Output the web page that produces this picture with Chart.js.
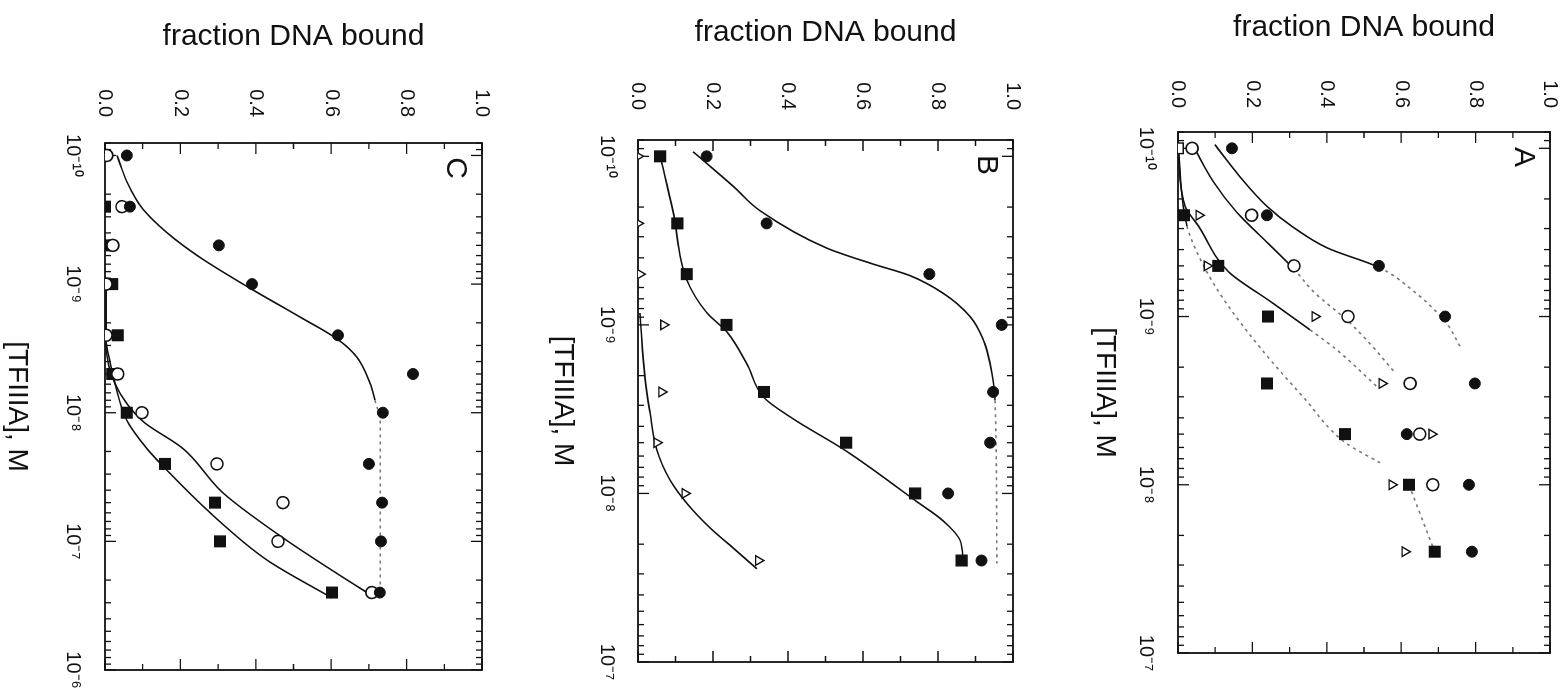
<!DOCTYPE html>
<html>
<head>
<meta charset="utf-8">
<script src="https://cdn.jsdelivr.net/npm/chart.js@4.4.1/dist/chart.umd.min.js"></script>
<style>
  html, body { margin: 0; padding: 0; background: #fff; overflow: hidden; }
  body { width: 1566px; height: 694px; position: relative; }
  /* the figure is laid out upright (694 wide, 1566 tall) and turned a quarter clockwise */
  #page { position: absolute; left: 0; top: 0; width: 694px; height: 1566px; overflow: hidden;
          transform-origin: 0 0; transform: translateX(1566px) rotate(90deg); }
  .panel { position: absolute; left: 0; }
</style>
</head>
<body>
<div id="page">
  <div class="panel" style="top:-20px"><canvas id="chartA" width="694" height="510"></canvas></div>
  <div class="panel" style="top:490px"><canvas id="chartB" width="714" height="540"></canvas></div>
  <div class="panel" style="top:1030px"><canvas id="chartC" width="714" height="536"></canvas></div>
</div>
<script>
// concentration axis labels
const decades = [1e-10, 1e-9, 1e-8, 1e-7, 1e-6];

// ---- panel A ----
const concA = [1e-10, 2.5e-10, 5e-10, 1e-9, 2.5e-9, 5e-9, 1e-8, 2.5e-8];
const aFilledCircle = [0.145, 0.239, 0.54, 0.718, 0.798, 0.615, 0.782, 0.79];
const aOpenCircle = [0.038, 0.198, 0.312, 0.457, 0.624, 0.65, 0.685, null];
const aTriangle = [null, 0.056, 0.078, 0.368, 0.548, 0.682, 0.575, 0.61];
const aSquare = [0, 0.016, 0.108, 0.242, 0.239, 0.449, 0.621, 0.69];
// fitted curves
const aFitFilledConc = [9.5e-11, 1.4e-10, 2.2e-10, 2.95e-10, 3.9e-10, 5.1e-10, 6.8e-10, 1.07e-9, 1.5e-9];
const aFitFilled = [0.099, 0.158, 0.238, 0.31, 0.40, 0.54, 0.624, 0.718, 0.758];
const aFitOpenConc = [1.02e-10, 1.58e-10, 2.4e-10, 3.6e-10, 5.2e-10, 7.1e-10, 1.07e-9, 1.45e-9, 2.1e-9];
const aFitOpen = [0.046, 0.095, 0.158, 0.238, 0.311, 0.364, 0.458, 0.516, 0.579];
const aFitTriangleConc = [1e-10, 2.2e-10, 2.9e-10, 5.4e-10, 8.1e-10, 1.2e-9, 1.58e-9, 2.6e-9];
const aFitTriangle = [0, 0.019, 0.055, 0.135, 0.247, 0.355, 0.427, 0.534];
const aFitSquareConc = [1e-10, 2.9e-10, 4.9e-10, 8.1e-10, 1.6e-9, 3.0e-9, 5.6e-9, 7.4e-9];
const aFitSquare = [0, 0.024, 0.067, 0.126, 0.228, 0.336, 0.449, 0.543];
const aLinkConc = [1e-8, 2.5e-8];
const aLink = [0.621, 0.69];

// ---- panel B ----
const concB = [1e-10, 2.5e-10, 5e-10, 1e-9, 2.5e-9, 5e-9, 1e-8, 2.5e-8];
const bFilledCircle = [0.183, 0.343, 0.777, 0.97, 0.947, 0.939, 0.827, 0.916];
const bSquare = [0.059, 0.105, 0.13, 0.236, 0.336, 0.555, 0.739, 0.863];
const bTriangle = [0, 0, 0.005, 0.068, 0.063, 0.05, 0.125, 0.321];
const bFitFilledConc = [9.4e-11, 1.5e-10, 2.1e-10, 3.5e-10, 4.3e-10, 5.1e-10, 6.5e-10, 8.9e-10, 1.23e-9, 1.7e-9, 2.8e-9, 2.6e-8];
const bFitFilled = [0.147, 0.253, 0.325, 0.503, 0.619, 0.725, 0.814, 0.885, 0.921, 0.939, 0.952, 0.957];
const bFitSquareConc = [1e-10, 2.1e-10, 5.4e-10, 8.5e-10, 1.1e-9, 1.7e-9, 2.7e-9, 3.6e-9, 5.6e-9, 1.1e-8, 1.45e-8, 1.9e-8, 2.6e-8];
const bFitSquare = [0.059, 0.093, 0.13, 0.184, 0.237, 0.29, 0.336, 0.413, 0.555, 0.739, 0.813, 0.859, 0.867];
const bFitTriangleConc = [8.5e-10, 2.1e-9, 3.3e-9, 5.5e-9, 8.3e-9, 1.15e-8, 1.6e-8, 2.1e-8, 2.8e-8];
const bFitTriangle = [0.005, 0.019, 0.032, 0.05, 0.085, 0.131, 0.192, 0.253, 0.317];

// ---- panel C ----
const concC = [1e-10, 2.5e-10, 5e-10, 1e-9, 2.5e-9, 5e-9, 1e-8, 2.5e-8, 5e-8, 1e-7, 2.5e-7];
const cFilledCircle = [0.058, 0.066, 0.302, 0.39, 0.618, 0.817, 0.737, 0.70, 0.735, 0.732, 0.729];
const cOpenCircle = [0.005, 0.045, 0.021, 0.003, 0.003, 0.034, 0.098, 0.297, 0.472, 0.459, 0.708];
const cSquare = [null, 0, 0, 0.019, 0.034, 0.019, 0.058, 0.159, 0.292, 0.305, 0.602];
const cFitFilledConc = [1e-10, 1.6e-10, 2.6e-10, 4e-10, 6.2e-10, 1.1e-9, 1.8e-9, 2.7e-9, 3.7e-9, 5.9e-9, 8e-9, 1.15e-8, 2.7e-7];
const cFitFilled = [0.032, 0.058, 0.10, 0.165, 0.252, 0.39, 0.517, 0.618, 0.668, 0.703, 0.716, 0.73, 0.73];
const cFitOpenConc = [1.1e-9, 2.9e-9, 6e-9, 1.15e-8, 1.9e-8, 4.2e-8, 9.3e-8, 1.7e-7, 2.5e-7];
const cFitOpen = [0.003, 0.003, 0.027, 0.098, 0.207, 0.313, 0.47, 0.605, 0.695];
const cFitSquareConc = [2.9e-9, 6e-9, 1.15e-8, 1.9e-8, 2.7e-8, 6e-8, 1.4e-7, 2.75e-7];
const cFitSquare = [0.003, 0.027, 0.058, 0.111, 0.159, 0.279, 0.43, 0.602];

const fontFam = '"Liberation Sans", Arial, Helvetica, sans-serif';
const ink = '#111';

function pairs(xs, ys) {
  return xs.map((x, i) => ({ x: x, y: ys[i] })).filter(p => p.y !== null);
}

const marks = {
  filled: { pointStyle: 'circle', pointRadius: 5.5, pointBackgroundColor: ink, pointBorderColor: ink, pointBorderWidth: 1 },
  open: { pointStyle: 'circle', pointRadius: 6, pointBackgroundColor: '#fff', pointBorderColor: ink, pointBorderWidth: 1.6 },
  square: { pointStyle: 'rect', pointRadius: 7.5, pointBackgroundColor: ink, pointBorderColor: ink, pointBorderWidth: 1.4 },
  triangle: { pointStyle: 'triangle', pointRadius: 5.5, pointBackgroundColor: '#fff', pointBorderColor: ink, pointBorderWidth: 1.4 }
};

function markSet(xs, ys, kind, extra) {
  return Object.assign({ data: pairs(xs, ys), showLine: false, order: 1 }, marks[kind], extra || {});
}

function fitSet(xs, ys, dashFrom) {
  const from = dashFrom === undefined ? Infinity : dashFrom;
  return {
    data: pairs(xs, ys), showLine: true, pointRadius: 0, borderColor: ink, borderWidth: 1.6,
    cubicInterpolationMode: 'monotone', order: 2,
    segment: {
      borderDash: c => c.p0DataIndex >= from ? [3, 4] : undefined,
      borderColor: c => c.p0DataIndex >= from ? '#777' : undefined
    }
  };
}

function sup(v) {
  const map = { '-': '\u207B', '0': '\u2070', '1': '\u00B9', '2': '\u00B2', '3': '\u00B3', '4': '\u2074',
    '5': '\u2075', '6': '\u2076', '7': '\u2077', '8': '\u2078', '9': '\u2079' };
  return String(Math.round(Math.log10(v))).split('').map(ch => map[ch]).join('');
}

// box, inward ticks and panel letter
const framePlugin = {
  id: 'frame',
  beforeDatasetsDraw(chart) {
    const { ctx, chartArea: a, scales: { x, y } } = chart;
    ctx.save();
    ctx.strokeStyle = ink;
    ctx.lineWidth = 1.8;
    ctx.strokeRect(a.left, a.top, a.right - a.left, a.bottom - a.top);
    ctx.lineWidth = 1.3;
    ctx.beginPath();
    for (let e = -11; e <= -6; e++) {
      for (let m = 1; m <= 9; m++) {
        const v = m * Math.pow(10, e);
        if (v < x.min * 0.999 || v > x.max * 1.001) continue;
        const px = x.getPixelForValue(v);
        const len = m === 1 ? 11 : 6;
        ctx.moveTo(px, a.bottom); ctx.lineTo(px, a.bottom - len);
        ctx.moveTo(px, a.top); ctx.lineTo(px, a.top + len);
      }
    }
    for (let i = 0; i <= 10; i++) {
      const py = y.getPixelForValue(i / 10);
      const len = i % 2 === 0 ? 11 : 6;
      ctx.moveTo(a.left, py); ctx.lineTo(a.left + len, py);
      ctx.moveTo(a.right, py); ctx.lineTo(a.right - len, py);
    }
    ctx.stroke();
    ctx.restore();
  },
  afterDraw(chart, args, opts) {
    const { ctx, chartArea: a } = chart;
    ctx.save();
    ctx.fillStyle = ink;
    ctx.font = '30px ' + fontFam;
    ctx.textAlign = 'center';
    ctx.textBaseline = 'middle';
    ctx.fillText(opts.letter, a.left + 25, a.top + 27);
    ctx.restore();
  }
};

function makeChart(p, datasets) {
  return new Chart(document.getElementById(p.id), {
    type: 'scatter',
    data: { datasets: datasets },
    plugins: [framePlugin],
    options: {
      responsive: false,
      animation: false,
      layout: { padding: { top: p.padTop, right: p.padRight, left: 0, bottom: 0 } },
      plugins: { legend: { display: false }, tooltip: { enabled: false }, frame: { letter: p.letter } },
      scales: {
        x: {
          type: 'logarithmic', position: 'bottom', min: 8e-11, max: p.xMax,
          grid: { display: false, drawTicks: false }, border: { display: false },
          afterBuildTicks: s => { s.ticks = decades.filter(v => v <= p.xMax * 1.001).map(v => ({ value: v })); },
          afterFit: s => { s.height = p.xAxisH; },
          ticks: { autoSkip: false, maxRotation: 0, padding: p.xTickPad, color: ink,
                   font: { family: fontFam, size: 20 }, callback: v => '10' + sup(v) },
          title: { display: true, text: '[TFIIIA], M', color: ink, font: { family: fontFam, size: 28 },
                   padding: { top: 0, bottom: p.xTitlePad } }
        },
        y: {
          min: 0, max: 1, position: 'left',
          grid: { display: false, drawTicks: false }, border: { display: false },
          afterFit: s => { s.width = p.yAxisW; },
          ticks: { stepSize: 0.2, padding: p.yTickPad, color: ink, font: { family: fontFam, size: 20 },
                   callback: v => Number(v).toFixed(1) },
          title: { display: true, text: 'fraction DNA bound', color: ink, font: { family: fontFam, size: 30 },
                   padding: { top: p.yTitlePad, bottom: 0 } }
        }
      }
    }
  });
}

makeChart({ id: 'chartA', letter: 'A', xMax: 1e-7, padTop: 36, padRight: 41, yAxisW: 132, xAxisH: 102,
            xTickPad: 20, yTickPad: 24, xTitlePad: 12, yTitlePad: 10 }, [
  markSet(concA, aFilledCircle, 'filled'),
  markSet(concA, aOpenCircle, 'open'),
  markSet(concA, aTriangle, 'triangle'),
  markSet(concA, aSquare, 'square', { pointBackgroundColor: ['#fff', ink, ink, ink, ink, ink, ink, ink] }),
  fitSet(aFitFilledConc, aFitFilled, 5),
  fitSet(aFitOpenConc, aFitOpen, 4),
  fitSet(aFitTriangleConc, aFitTriangle, 5),
  fitSet(aFitSquareConc, aFitSquare, 1),
  fitSet(aLinkConc, aLink, 0)
]);

makeChart({ id: 'chartB', letter: 'B', xMax: 1e-7, padTop: 63, padRight: 52, yAxisW: 140, xAxisH: 102,
            xTickPad: 19, yTickPad: 30, xTitlePad: 10, yTitlePad: 15 }, [
  markSet(concB, bFilledCircle, 'filled'),
  markSet(concB, bSquare, 'square'),
  markSet(concB, bTriangle, 'triangle'),
  fitSet(bFitFilledConc, bFitFilled, 10),
  fitSet(bFitSquareConc, bFitSquare),
  fitSet(bFitTriangleConc, bFitTriangle)
]);

makeChart({ id: 'chartC', letter: 'C', xMax: 1e-6, padTop: 54, padRight: 44, yAxisW: 143, xAxisH: 105,
            xTickPad: 20, yTickPad: 26, xTitlePad: 0, yTitlePad: 19 }, [
  markSet(concC, cFilledCircle, 'filled'),
  markSet(concC, cOpenCircle, 'open'),
  markSet(concC, cSquare, 'square'),
  fitSet(cFitFilledConc, cFitFilled, 10),
  fitSet(cFitOpenConc, cFitOpen),
  fitSet(cFitSquareConc, cFitSquare)
]);
</script>
</body>
</html>
